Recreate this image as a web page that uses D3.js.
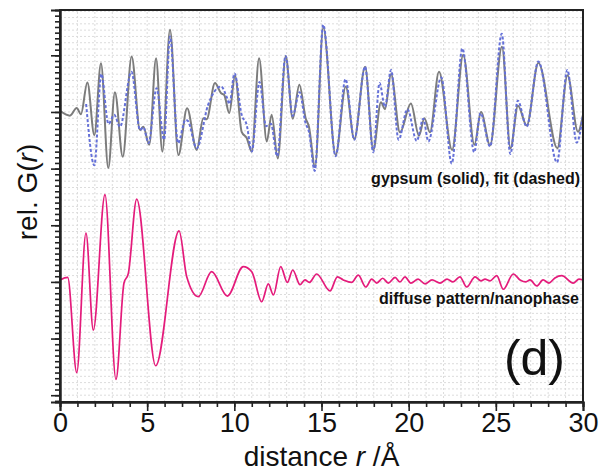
<!DOCTYPE html>
<html>
<head>
<meta charset="utf-8">
<script src="https://cdn.jsdelivr.net/npm/d3@7"></script>
<style>
  body { margin: 0; background: #fff; }
  svg { font-family: "Liberation Sans", Arial, sans-serif; }
</style>
</head>
<body>
<div id="chart"></div>
<script>
// gypsum PDF (solid), values relative to its own baseline, [r, G]
const gypsum = [
  [0, 0.02], [0.57, -0.065], [0.96, 0.07], [1.2, -0.04], [1.57, 0.52], [1.97, -0.41],
  [2.35, 0.86], [2.77, -0.99], [3.15, 0.35], [3.6, -0.79], [4.11, 0.98], [4.59, -0.32],
  [4.78, -0.26], [5.12, -0.58], [5.51, 0.95], [5.87, -0.70], [6.31, 1.45], [6.79, -0.76],
  [7.29, 0.065], [7.84, -0.67], [8.22, -0.11], [8.41, -0.13], [8.89, 0.51], [9.24, 0.33],
  [9.42, 0.30], [9.71, -0.02], [10.04, 0.64], [10.42, -0.35], [10.71, -0.46], [11.0, -0.70],
  [11.42, 0.95], [11.86, -0.52], [12.14, -0.05], [12.49, -0.82], [12.95, 0.99], [13.35, -0.12],
  [13.73, 0.48], [14.09, -0.11], [14.28, -0.26], [14.63, -0.97], [15.10, 1.49], [15.81, -0.76],
  [16.39, 0.45], [16.88, -0.48], [17.50, 0.80], [17.97, -0.67], [18.41, 0.17], [18.64, 0.05],
  [18.99, 0.67], [19.50, -0.36], [20.13, 0.15], [20.59, -0.42], [20.90, -0.11], [21.22, -0.36],
  [21.74, 0.71], [22.49, -0.67], [23.13, 1.01], [23.77, -0.58], [24.15, 0.0], [24.67, -0.59],
  [25.35, 1.15], [25.84, -0.64], [26.27, 0.11], [26.77, -0.24], [27.44, 0.87], [28.53, -0.64],
  [29.11, 0.65], [29.71, -0.35], [30, -0.05]
];

// fit (dashed)
const fit = [
  [1.5, 0.14], [1.97, -0.94], [2.37, 0.67], [2.78, -0.21], [3.11, -0.05], [3.44, -0.26],
  [4.10, 0.71], [4.59, -0.32], [4.78, -0.27], [5.08, -0.55], [5.54, 0.42], [5.97, -0.49],
  [6.31, 1.33], [6.77, -0.55], [7.20, -0.14], [7.34, -0.16], [7.84, -0.64], [8.49, 0.12],
  [9.24, 0.45], [9.58, 0.25], [9.72, 0.14], [10.01, 0.68], [10.42, -0.05], [10.71, -0.23],
  [11.0, -0.70], [11.44, 0.53], [11.82, -0.25], [12.10, -0.21], [12.46, -0.78], [12.94, 0.99],
  [13.34, -0.07], [13.74, 0.35], [14.08, -0.19], [14.28, -0.35], [14.61, -1.04], [15.10, 1.54],
  [15.81, -0.78], [16.38, 0.58], [16.88, -0.49], [17.50, 0.80], [17.97, -0.71], [18.33, 0.51],
  [18.64, 0.09], [18.99, 0.74], [19.42, -0.49], [19.93, 0.05], [20.46, -0.51], [20.84, -0.12],
  [21.13, -0.52], [21.87, 0.61], [22.47, -0.91], [23.08, 1.12], [23.76, -0.71], [24.12, -0.02],
  [24.67, -0.61], [25.34, 1.38], [25.83, -0.74], [26.26, 0.20], [26.77, -0.26], [27.44, 0.89],
  [28.51, -0.89], [29.10, 0.74], [29.64, -0.54], [30, -0.05]
];

// diffuse pattern / nanophase
const diffuse = [
  [0, 0.035], [0.44, 0.08], [0.96, -1.60], [1.49, 0.86], [1.91, -0.85], [2.58, 1.54],
  [3.21, -1.72], [3.67, -0.02], [3.92, 0.15], [4.40, 1.46], [5.49, -1.48], [6.83, 0.90],
  [7.27, 0.09], [7.93, -0.26], [8.70, 0.18], [9.60, -0.25], [10.51, 0.27], [11.0, 0.18],
  [11.57, -0.35], [11.95, -0.035], [12.24, -0.23], [12.66, 0.27], [13.04, -0.01], [13.35, 0.21],
  [13.77, -0.05], [14.05, 0.035], [14.30, -0.01], [14.72, 0.14], [15.49, -0.16], [15.91, 0.09],
  [16.25, 0.035], [16.73, -0.01], [17.11, 0.12], [17.54, -0.09], [17.88, 0.05], [18.17, -0.02],
  [18.51, 0.065], [18.83, -0.02], [19.22, 0.08], [19.5, 0.0], [19.79, 0.09], [20.13, -0.02],
  [20.54, 0.05], [20.94, -0.035], [21.34, 0.035], [21.8, -0.02], [22.2, 0.05], [22.54, 0.0],
  [22.94, 0.09], [23.33, -0.09], [23.81, 0.09], [24.15, 0.02], [24.38, 0.05], [24.67, 0.02],
  [25.05, 0.11], [25.43, -0.13], [26.0, 0.14], [26.39, 0.035], [26.73, 0.0], [26.96, 0.035],
  [27.35, -0.07], [27.71, 0.035], [28.05, -0.02], [28.39, 0.07], [28.78, 0.11], [29.44, -0.02],
  [29.77, 0.05], [30, 0.035]
];

const gypsumOffset = 5;
const diffuseOffset = 2;
const xTicks = [0, 5, 10, 15, 20, 25, 30];
const yMajor = [0, 1, 2, 3, 4, 5, 6];

const width = 601, height = 473;
const margin = { left: 60, right: 18, top: 10, bottom: 71 };

const svg = d3.select('#chart')
  .append('svg')
    .attr('width', width)
    .attr('height', height);

const x = d3.scaleLinear()
  .domain([0, 30])
  .range([margin.left, width - margin.right]);

const y = d3.scaleLinear()
  .domain([-0.12, 6.8])
  .range([height - margin.bottom, margin.top]);

// grid
const xMinor = d3.range(1, 30);
const yMinor = d3.range(-0.1, 6.8, 0.1).map(d => +d.toFixed(2));
const yGrid = d3.range(0, 7.6, 1 / 9).map(d => d - 0.111).filter(d => d > -0.12 && d < 6.8);

svg.append('g')
  .selectAll('line')
  .data(xMinor)
  .join('line')
    .attr('x1', d => x(d)).attr('x2', d => x(d))
    .attr('y1', y.range()[0]).attr('y2', y.range()[1])
    .attr('stroke', '#dcdcdc')
    .attr('stroke-width', 1)
    .attr('stroke-dasharray', '2,2');

svg.append('g')
  .selectAll('line')
  .data(yGrid)
  .join('line')
    .attr('x1', x.range()[0]).attr('x2', x.range()[1])
    .attr('y1', d => y(d)).attr('y2', d => y(d))
    .attr('stroke', '#dcdcdc')
    .attr('stroke-width', 1)
    .attr('stroke-dasharray', '2,2');

svg.append('clipPath')
    .attr('id', 'plot-clip')
  .append('rect')
    .attr('x', x.range()[0])
    .attr('y', y.range()[1])
    .attr('width', x.range()[1] - x.range()[0])
    .attr('height', y.range()[0] - y.range()[1]);

const line = offset => d3.line()
  .x(d => x(d[0]))
  .y(d => y(d[1] + offset))
  .curve(d3.curveMonotoneX);

const curves = svg.append('g').attr('clip-path', 'url(#plot-clip)');

curves.append('path')
  .attr('d', line(gypsumOffset)(gypsum))
  .attr('fill', 'none')
  .attr('stroke', '#7c7c7c')
  .attr('stroke-width', 2);

curves.append('path')
  .attr('d', line(gypsumOffset)(fit))
  .attr('fill', 'none')
  .attr('stroke', '#6470d8')
  .attr('stroke-width', 2)
  .attr('stroke-dasharray', '3,2');

curves.append('path')
  .attr('d', line(diffuseOffset)(diffuse))
  .attr('fill', 'none')
  .attr('stroke', '#e41b7b')
  .attr('stroke-width', 1.7);

// frame
svg.append('rect')
  .attr('x', x.range()[0])
  .attr('y', y.range()[1])
  .attr('width', x.range()[1] - x.range()[0])
  .attr('height', y.range()[0] - y.range()[1])
  .attr('fill', 'none')
  .attr('stroke', '#222')
  .attr('stroke-width', 2);

// axes
const xAxisMinor = svg.append('g')
  .attr('transform', `translate(0,${y.range()[0]})`)
  .call(d3.axisBottom(x).tickValues(d3.range(0, 31)).tickSize(5).tickFormat(''));

const xAxis = svg.append('g')
  .attr('transform', `translate(0,${y.range()[0]})`)
  .call(d3.axisBottom(x).tickValues(xTicks).tickSize(9).tickPadding(2).tickFormat(d3.format('d')));

const yAxisMinor = svg.append('g')
  .attr('transform', `translate(${x.range()[0]},0)`)
  .call(d3.axisLeft(y).tickValues(yMinor).tickSize(5).tickFormat(''));

const yAxis = svg.append('g')
  .attr('transform', `translate(${x.range()[0]},0)`)
  .call(d3.axisLeft(y).tickValues(yMajor).tickSize(9).tickFormat(''));

[xAxisMinor, xAxis, yAxisMinor, yAxis].forEach(g => {
  g.select('.domain').attr('stroke', '#222').attr('stroke-width', 2);
  g.selectAll('.tick line').attr('stroke', '#222').attr('stroke-width', 1.6);
});

xAxis.selectAll('text')
  .attr('fill', '#111')
  .style('font-size', '27px');

// labels
svg.append('text')
  .attr('x', (x.range()[0] + x.range()[1]) / 2)
  .attr('y', 466)
  .attr('text-anchor', 'middle')
  .style('font-size', '28px')
  .attr('fill', '#111')
  .html('distance <tspan font-style="italic">r</tspan> /Å');

svg.append('text')
  .attr('transform', 'translate(37,192) rotate(-90)')
  .attr('text-anchor', 'middle')
  .style('font-size', '28px')
  .attr('fill', '#111')
  .html('rel. G(<tspan font-style="italic">r</tspan>)');

svg.append('text')
  .attr('x', 580)
  .attr('y', 184)
  .attr('text-anchor', 'end')
  .style('font-size', '16px')
  .style('font-weight', 'bold')
  .attr('fill', '#111')
  .text('gypsum (solid), fit (dashed)');

svg.append('text')
  .attr('x', 579)
  .attr('y', 304)
  .attr('text-anchor', 'end')
  .style('font-size', '16px')
  .style('font-weight', 'bold')
  .attr('fill', '#111')
  .text('diffuse pattern/nanophase');

svg.append('text')
  .attr('x', 565)
  .attr('y', 375)
  .attr('text-anchor', 'end')
  .style('font-size', '50px')
  .attr('fill', '#111')
  .text('(d)');
</script>
</body>
</html>
